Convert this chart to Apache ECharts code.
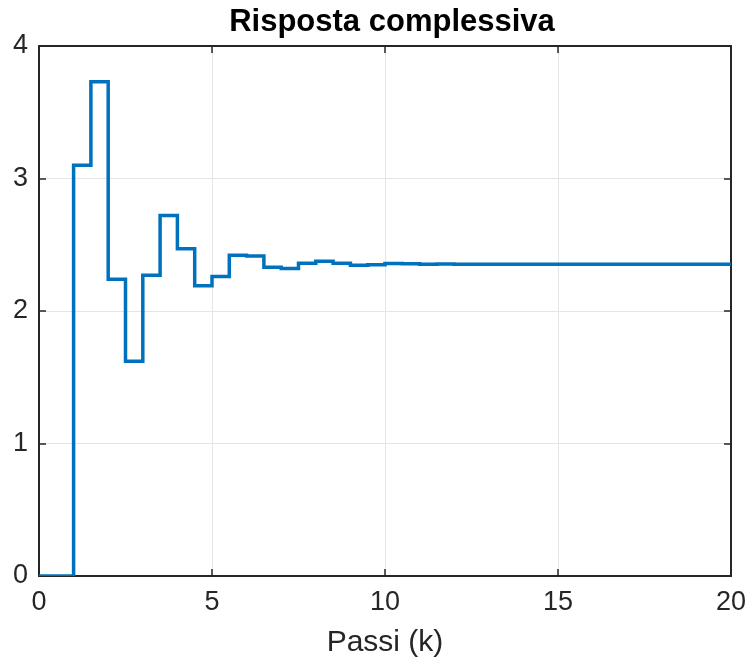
<!DOCTYPE html>
<html><head><meta charset="utf-8">
<script src="https://cdn.jsdelivr.net/npm/echarts@6/dist/echarts.min.js"></script>
<style>html,body{margin:0;padding:0;background:#fff}#c{width:749px;height:664px}</style>
</head><body><div id="c"></div>
<script>
const titleText = "Risposta complessiva";
const xLabel = "Passi (k)";
const steps = [0,0.5,1,1.5,2,2.5,3,3.5,4,4.5,5,5.5,6,6.5,7,7.5,8,8.5,9,9.5,10,10.5,11,11.5,12,12.5,13,13.5,14,14.5,15,15.5,16,16.5,17,17.5,18,18.5,19,19.5,20];
const response = [0,0,3.10,3.73,2.24,1.62,2.27,2.72,2.47,2.19,2.26,2.42,2.415,2.33,2.32,2.36,2.375,2.36,2.345,2.35,2.358,2.356,2.352,2.354,2.353,2.353,2.353,2.353,2.353,2.353,2.353,2.353,2.353,2.353,2.353,2.353,2.353,2.353,2.353,2.353,2.353];
const xTicks = [0,5,10,15,20];
const yTicks = [0,1,2,3,4];

// zero-order hold: each value is held until the next step
const stairPoints = [];
for (let i = 0; i < steps.length - 1; i++) {
  stairPoints.push([steps[i], response[i]]);
  stairPoints.push([steps[i + 1], response[i]]);
}

const font = "'Liberation Sans', Arial, sans-serif";
const axisCol = '#262626';
const gridCol = '#e5e5e5';
const chart = echarts.init(document.getElementById('c'), null, {renderer:'canvas'});
const baseX = {type:'value', min:xTicks[0], max:xTicks[xTicks.length-1], interval:xTicks[1]-xTicks[0]};
const baseY = {type:'value', min:yTicks[0], max:yTicks[yTicks.length-1], interval:yTicks[1]-yTicks[0]};
const lineS = {show:true, onZero:false, lineStyle:{color:axisCol, width:2}};
const tickS = {show:true, inside:true, length:7, lineStyle:{color:axisCol, width:1.5}};
chart.setOption({
  animation:false,
  title:{text:titleText, left:387, top:2, textAlign:'center',
    textStyle:{fontFamily:font, fontWeight:'bold', fontSize:31, color:'#000'}},
  grid:{left:39, right:17, top:46, bottom:88},
  xAxis:[
    Object.assign({}, baseX, {position:'bottom', name:xLabel, nameLocation:'middle', nameGap:52,
      nameTextStyle:{fontFamily:font, fontSize:30, color:axisCol},
      axisLine:lineS, axisTick:tickS,
      axisLabel:{fontFamily:font, fontSize:27, color:axisCol, margin:13},
      splitLine:{show:true, lineStyle:{color:gridCol, width:1}}}),
    Object.assign({}, baseX, {position:'top', axisLine:lineS, axisTick:tickS,
      axisLabel:{show:false}, splitLine:{show:false}})
  ],
  yAxis:[
    Object.assign({}, baseY, {position:'left', axisLine:lineS, axisTick:tickS,
      axisLabel:{fontFamily:font, fontSize:27, color:axisCol, margin:11},
      splitLine:{show:true, lineStyle:{color:gridCol, width:1}}}),
    Object.assign({}, baseY, {position:'right', axisLine:lineS, axisTick:tickS,
      axisLabel:{show:false}, splitLine:{show:false}})
  ],
  series:[{
    type:'custom', xAxisIndex:0, yAxisIndex:0, clip:true,
    data: stairPoints,
    encode:{x:0, y:1},
    renderItem: function (params, api) {
      if (params.dataIndex !== 0) return null;
      const pts = stairPoints.map(p => api.coord(p));
      return {
        type:'polyline', shape:{points:pts},
        style:{stroke:'#0072BD', lineWidth:3.5, fill:null, lineJoin:'miter'}
      };
    }
  }]
});
</script></body></html>
